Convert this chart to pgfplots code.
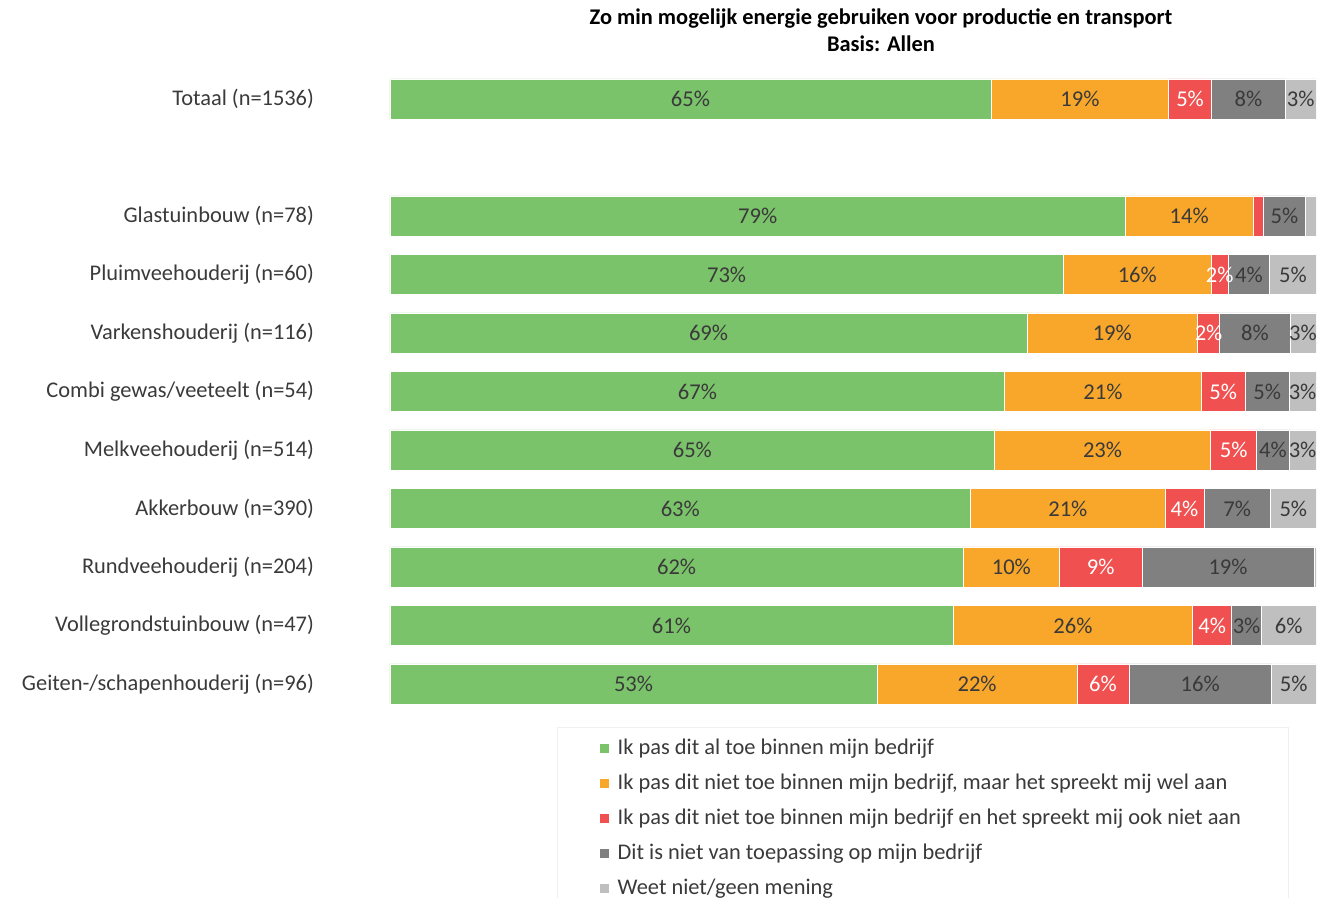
\documentclass[border=0pt]{standalone}
\usepackage{fontspec}
\setmainfont{Carlito}
\usepackage{pgfplots}
\usepackage{pgfplotstable}
\pgfplotsset{compat=1.18}
\definecolor{cg}{HTML}{7AC36A}
\definecolor{co}{HTML}{F9A72B}
\definecolor{cr}{HTML}{F0504F}
\definecolor{cd}{HTML}{808080}
\definecolor{cl}{HTML}{BFBFBF}
\definecolor{txt}{HTML}{3A3A3A}
\pgfplotstableread{
pos g o r d l gL oL rL dL lL
0 64.9 19.2 4.6 8.0 3.3 65\% 19\% 5\% 8\% 3\%
2 79.4 13.8 1.1 4.6 1.1 79\% 14\% {} 5\% {}
3 72.7 16.0 1.8 4.5 5.0 73\% 16\% 2\% 4\% 5\%
4 68.8 18.4 2.4 7.6 2.8 69\% 19\% 2\% 8\% 3\%
5 66.4 21.2 4.75 4.75 2.9 67\% 21\% 5\% 5\% 3\%
6 65.3 23.3 5.0 3.5 2.9 65\% 23\% 5\% 4\% 3\%
7 62.7 21.0 4.2 7.2 4.9 63\% 21\% 4\% 7\% 5\%
8 61.9 10.4 8.9 18.6 0.2 62\% 10\% 9\% 19\% {}
9 60.8 25.9 4.2 3.2 5.9 61\% 26\% 4\% 3\% 6\%
10 52.6 21.6 5.6 15.4 4.8 53\% 22\% 6\% 16\% 5\%
}\data
\pgfplotsset{
  common/.style={at={(195pt,89.45pt)}, anchor=south west, scale only axis,
    width=463pt, height=327.6pt, xmin=0, xmax=100, ymin=-0.6, ymax=10.6, y dir=reverse},
  lab/.style={draw=none, mark=none, nodes near coords={\pgfplotspointmeta},
    point meta=explicit symbolic,
    every node near coord/.style={anchor=center, font=\fontsize{11.3}{13}\selectfont, text=#1}},
}
\begin{document}
\begin{tikzpicture}
\path[use as bounding box] (0,0) rectangle (662pt,449pt);
\node[align=center, font=\bfseries\fontsize{11.2}{13.5}\selectfont] at (440.5pt,433.75pt) {Zo min mogelijk energie gebruiken voor productie en transport\\Basis: Allen};
\begin{axis}[common, xbar stacked, bar width=20pt,
  axis line style={draw=none}, xtick=\empty, major tick length=0pt,
  ytick={0,2,3,4,5,6,7,8,9,10},
  yticklabels={Totaal (n=1536), Glastuinbouw (n=78), Pluimveehouderij (n=60), Varkenshouderij (n=116), Combi gewas/veeteelt (n=54), Melkveehouderij (n=514), Akkerbouw (n=390), Rundveehouderij (n=204), Vollegrondstuinbouw (n=47), Geiten-/schapenhouderij (n=96)},
  yticklabel style={font=\fontsize{11.2}{13}\selectfont, text=txt, xshift=-34.5pt},
  legend style={at={(rel axis cs:0.18,-0.0121)}, anchor=north west, draw=black!6,
    font=\fontsize{11.2}{13}\selectfont, text=txt, row sep=4.15pt, inner xsep=21.5pt, inner ysep=4pt},
  legend cell align=left,
  legend image code/.code={\fill[#1,draw=none] (0pt,-2.3pt) rectangle (4.6pt,2.3pt); \path (6.6pt,0pt);},
]
\addplot[fill=cg, draw=white, line width=0.4pt] table[x=g, y=pos] {\data};
\addplot[fill=co, draw=white, line width=0.4pt] table[x=o, y=pos] {\data};
\addplot[fill=cr, draw=white, line width=0.4pt] table[x=r, y=pos] {\data};
\addplot[fill=cd, draw=white, line width=0.4pt] table[x=d, y=pos] {\data};
\addplot[fill=cl, draw=white, line width=0.4pt] table[x=l, y=pos] {\data};
\legend{Ik pas dit al toe binnen mijn bedrijf, {Ik pas dit niet toe binnen mijn bedrijf, maar het spreekt mij wel aan}, Ik pas dit niet toe binnen mijn bedrijf en het spreekt mij ook niet aan, Dit is niet van toepassing op mijn bedrijf, Weet niet/geen mening}
\end{axis}
\begin{axis}[common, hide axis]
\addplot[lab=txt] table[x expr=\thisrow{g}/2, y=pos, meta=gL] {\data};
\addplot[lab=txt] table[x expr=\thisrow{g}+\thisrow{o}/2, y=pos, meta=oL] {\data};
\addplot[lab=white] table[x expr=\thisrow{g}+\thisrow{o}+\thisrow{r}/2, y=pos, meta=rL] {\data};
\addplot[lab=txt] table[x expr=\thisrow{g}+\thisrow{o}+\thisrow{r}+\thisrow{d}/2, y=pos, meta=dL] {\data};
\addplot[lab=txt] table[x expr=\thisrow{g}+\thisrow{o}+\thisrow{r}+\thisrow{d}+\thisrow{l}/2, y=pos, meta=lL] {\data};
\end{axis}
\end{tikzpicture}
\end{document}
